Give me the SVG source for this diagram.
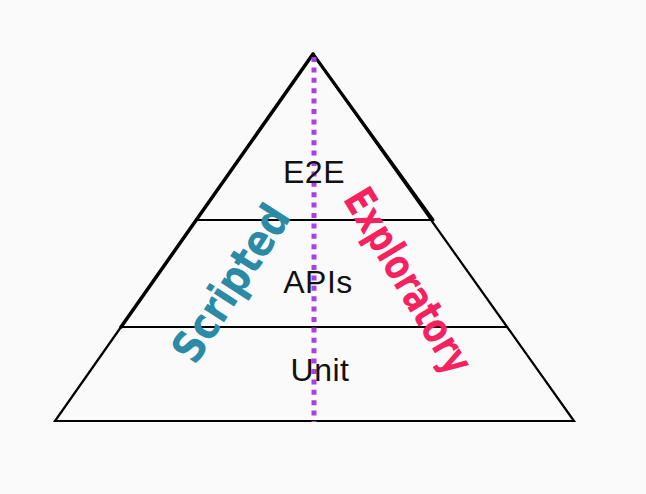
<svg xmlns="http://www.w3.org/2000/svg" width="646" height="494" viewBox="0 0 646 494">
<style>
.edge{stroke:#000;fill:none;stroke-linecap:round}
.lbl{font-family:"Liberation Sans",Arial,sans-serif;font-size:32px;fill:#111;text-anchor:middle;letter-spacing:0.5px}
.hand{font-family:"DejaVu Sans",sans-serif;font-weight:bold;text-anchor:middle}
</style>
<rect width="646" height="494" fill="#fafafa"/>
<g id="pyramid">
<path class="edge" d="M313,54 L121,327" stroke-width="3.5"/>
<path class="edge" d="M121,327 L55,421 L574,421 L313,54" stroke-width="2.2"/>
<path class="edge" d="M313,54 L433,220" stroke-width="3"/>
</g>
<g id="connectors">
<line x1="196" y1="220" x2="432" y2="220" stroke="#000" stroke-width="2"/>
<line x1="121" y1="327" x2="508" y2="327" stroke="#000" stroke-width="2"/>
<line x1="314" y1="57" x2="314" y2="422" stroke="#a840e4" stroke-width="5" stroke-dasharray="5 5.4"/>
</g>
<g id="e2e"><text class="lbl" x="314" y="183">E2E</text></g>
<g id="apis"><text class="lbl" x="318" y="293">APIs</text></g>
<g id="unit"><text class="lbl" x="320" y="381">Unit</text></g>
<g id="scripted"><text class="hand" transform="translate(232,284) rotate(-57)" y="14" font-size="44" fill="#2b8aa6" textLength="178" lengthAdjust="spacingAndGlyphs">Scripted</text></g>
<g id="exploratory"><text class="hand" transform="translate(408,281) rotate(59)" y="14" font-size="42" fill="#f6215f" textLength="208" lengthAdjust="spacingAndGlyphs">Exploratory</text></g>
</svg>
